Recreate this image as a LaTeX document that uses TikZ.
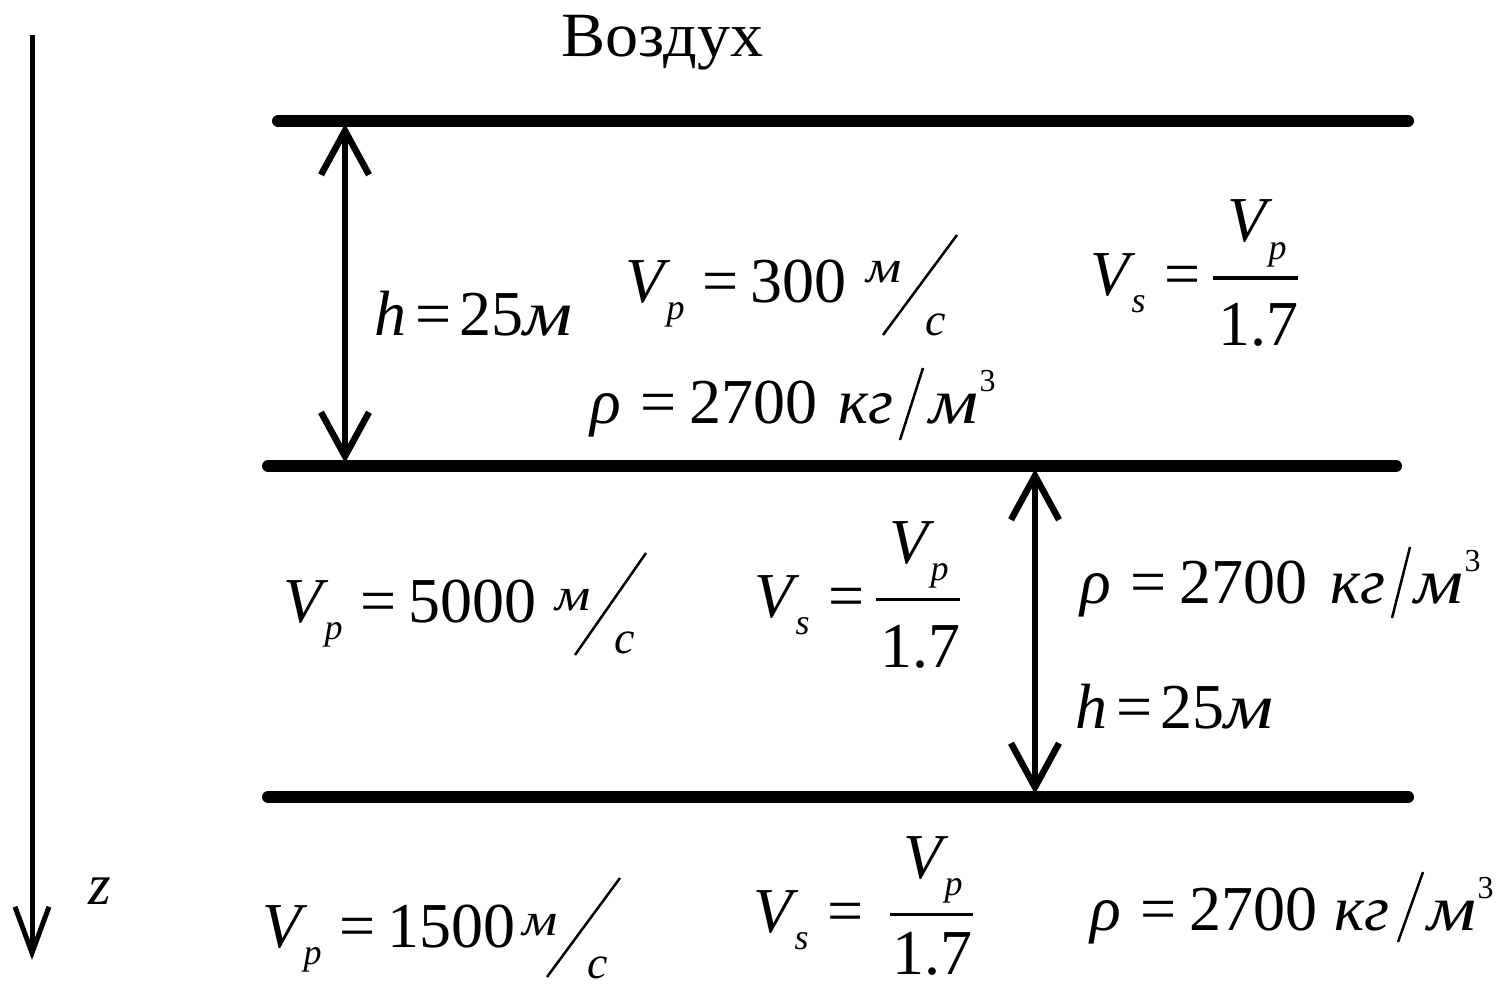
\documentclass[tikz,border=0pt]{standalone}
\usepackage{fontspec}
\setmainfont{Liberation Serif}
\usepackage{graphicx}
\usetikzlibrary{arrows.meta}
\newcommand\eqfont{\fontsize{64}{72}\selectfont}
\newcommand\subfont{\fontsize{36}{40}\selectfont}
\newcommand\unitfont{\fontsize{46}{50}\selectfont}
\newcommand\powfont{\fontsize{32}{36}\selectfont}
\newcommand\lowsub[1]{\kern-0.06em\raisebox{-0.27em}{\subfont\itshape #1}}
\newcommand\eqsignA[2]{\kern#1em=\kern#2em}
\newcommand\emm{\scalebox{1.2}[1]{\itshape м}}
\newcommand\cubic{\kern0.02em\raisebox{0.5em}{\powfont 3}}
\begin{document}
\begin{tikzpicture}[x=1pt,y=-1pt,
  layer/.style={line width=12pt,line cap=round},
  dim/.style={line width=6.5pt,{Straight Barb[length=44pt,width=48pt]}-{Straight Barb[length=44pt,width=48pt]}},
  axis/.style={line width=5pt,-{Straight Barb[length=46pt,width=34pt]}},
  eq/.style={font=\eqfont,anchor=base west,inner sep=0pt},
  unit/.style={font=\unitfont\itshape,anchor=base west,inner sep=0pt},
  slash/.style={line width=2.5pt},
  bar/.style={line width=3pt}]
\useasboundingbox (0,0) rectangle (1501,992);
% axis
\coordinate (ztop) at (32,35);
\coordinate (zbot) at (32,960);
\draw[axis] (ztop) -- (zbot);
\node[font=\fontsize{58}{62}\selectfont\itshape,anchor=base west,inner sep=0pt] (zlab) at (88,904) {z};
\node[font=\fontsize{63}{68}\selectfont,anchor=base west,inner sep=0pt] (air) at (561,57) {\scalebox{1.05}[1]{Воздух}};
% layer boundaries
\coordinate (L1w) at (278,121); \coordinate (L1e) at (1408,121);
\coordinate (L2w) at (268,466); \coordinate (L2e) at (1396,466);
\coordinate (L3w) at (268,797); \coordinate (L3e) at (1408,797);
\draw[layer] (L1w) -- (L1e);
\draw[layer] (L2w) -- (L2e);
\draw[layer] (L3w) -- (L3e);
% thickness arrows
\coordinate (A1t) at (345,124); \coordinate (A1b) at (345,463);
\coordinate (A2t) at (1035,469); \coordinate (A2b) at (1035,794);
\draw[dim] (A1t) -- (A1b);
\draw[dim] (A2t) -- (A2b);
% ---- layer 1
\node[eq] (h1) at (374,335) {\textit{h}\eqsignA{0.15}{0.12}25\emm};
\node[eq] (vp1) at (625,302) {\textit{V}\lowsub{p}\eqsignA{0.28}{0.18}300};
\node[unit] (vp1m) at (866,283) {\emm};
\node[unit] (vp1c) at (925,335) {с};
\coordinate (s1a) at (883,335); \coordinate (s1b) at (957,235);
\draw[slash] (s1a) -- (s1b);
\node[eq] (vs1) at (1090,295) {\textit{V}\lowsub{s}\eqsignA{0.3}{0}};
\node[eq] (vs1n) at (1227,242) {\textit{V}\lowsub{p}};
\coordinate (b1a) at (1213,278); \coordinate (b1b) at (1298,278);
\draw[bar] (b1a) -- (b1b);
\node[eq] (vs1d) at (1218,345) {1.7};
\node[eq] (r1) at (590,423) {\textit{ρ}\eqsignA{0.3}{0.2}2700};
\node[eq] (r1kg) at (838,423) {\textit{кг}};
\coordinate (r1a) at (900,440); \coordinate (r1b) at (923,368);
\draw[slash] (r1a) -- (r1b);
\node[eq] (r1m) at (929,423) {\emm\cubic};
% ---- layer 2
\node[eq] (vp2) at (283,622) {\textit{V}\lowsub{p}\eqsignA{0.28}{0.18}5000};
\node[unit] (vp2m) at (555,610) {\emm};
\node[unit] (vp2c) at (614,653) {с};
\coordinate (s2a) at (575,655); \coordinate (s2b) at (646,553);
\draw[slash] (s2a) -- (s2b);
\node[eq] (vs2) at (754,617) {\textit{V}\lowsub{s}\eqsignA{0.3}{0}};
\node[eq] (vs2n) at (889,563) {\textit{V}\lowsub{p}};
\coordinate (b2a) at (876,599); \coordinate (b2b) at (960,599);
\draw[bar] (b2a) -- (b2b);
\node[eq] (vs2d) at (880,667) {1.7};
\node[eq] (r2) at (1080,603) {\textit{ρ}\eqsignA{0.3}{0.2}2700};
\node[eq] (r2kg) at (1330,603) {\textit{кг}};
\coordinate (r2a) at (1392,618); \coordinate (r2b) at (1410,547);
\draw[slash] (r2a) -- (r2b);
\node[eq] (r2m) at (1414,603) {\emm\cubic};
\node[eq] (h2) at (1075,728) {\textit{h}\eqsignA{0.15}{0.12}25\emm};
% ---- layer 3
\node[eq] (vp3) at (262,947) {\textit{V}\lowsub{p}\eqsignA{0.28}{0.18}1500};
\node[unit] (vp3m) at (522,935) {\emm};
\node[unit] (vp3c) at (587,978) {с};
\coordinate (s3a) at (547,977); \coordinate (s3b) at (620,878);
\draw[slash] (s3a) -- (s3b);
\node[eq] (vs3) at (753,932) {\textit{V}\lowsub{s}\eqsignA{0.3}{0}};
\node[eq] (vs3n) at (903,878) {\textit{V}\lowsub{p}};
\coordinate (b3a) at (890,914); \coordinate (b3b) at (973,914);
\draw[bar] (b3a) -- (b3b);
\node[eq] (vs3d) at (892,974) {1.7};
\node[eq] (r3) at (1090,930) {\textit{ρ}\eqsignA{0.3}{0.2}2700};
\node[eq] (r3kg) at (1334,930) {\textit{кг}};
\coordinate (r3a) at (1398,942); \coordinate (r3b) at (1423,872);
\draw[slash] (r3a) -- (r3b);
\node[eq] (r3m) at (1427,930) {\emm\cubic};
\end{tikzpicture}
\end{document}
